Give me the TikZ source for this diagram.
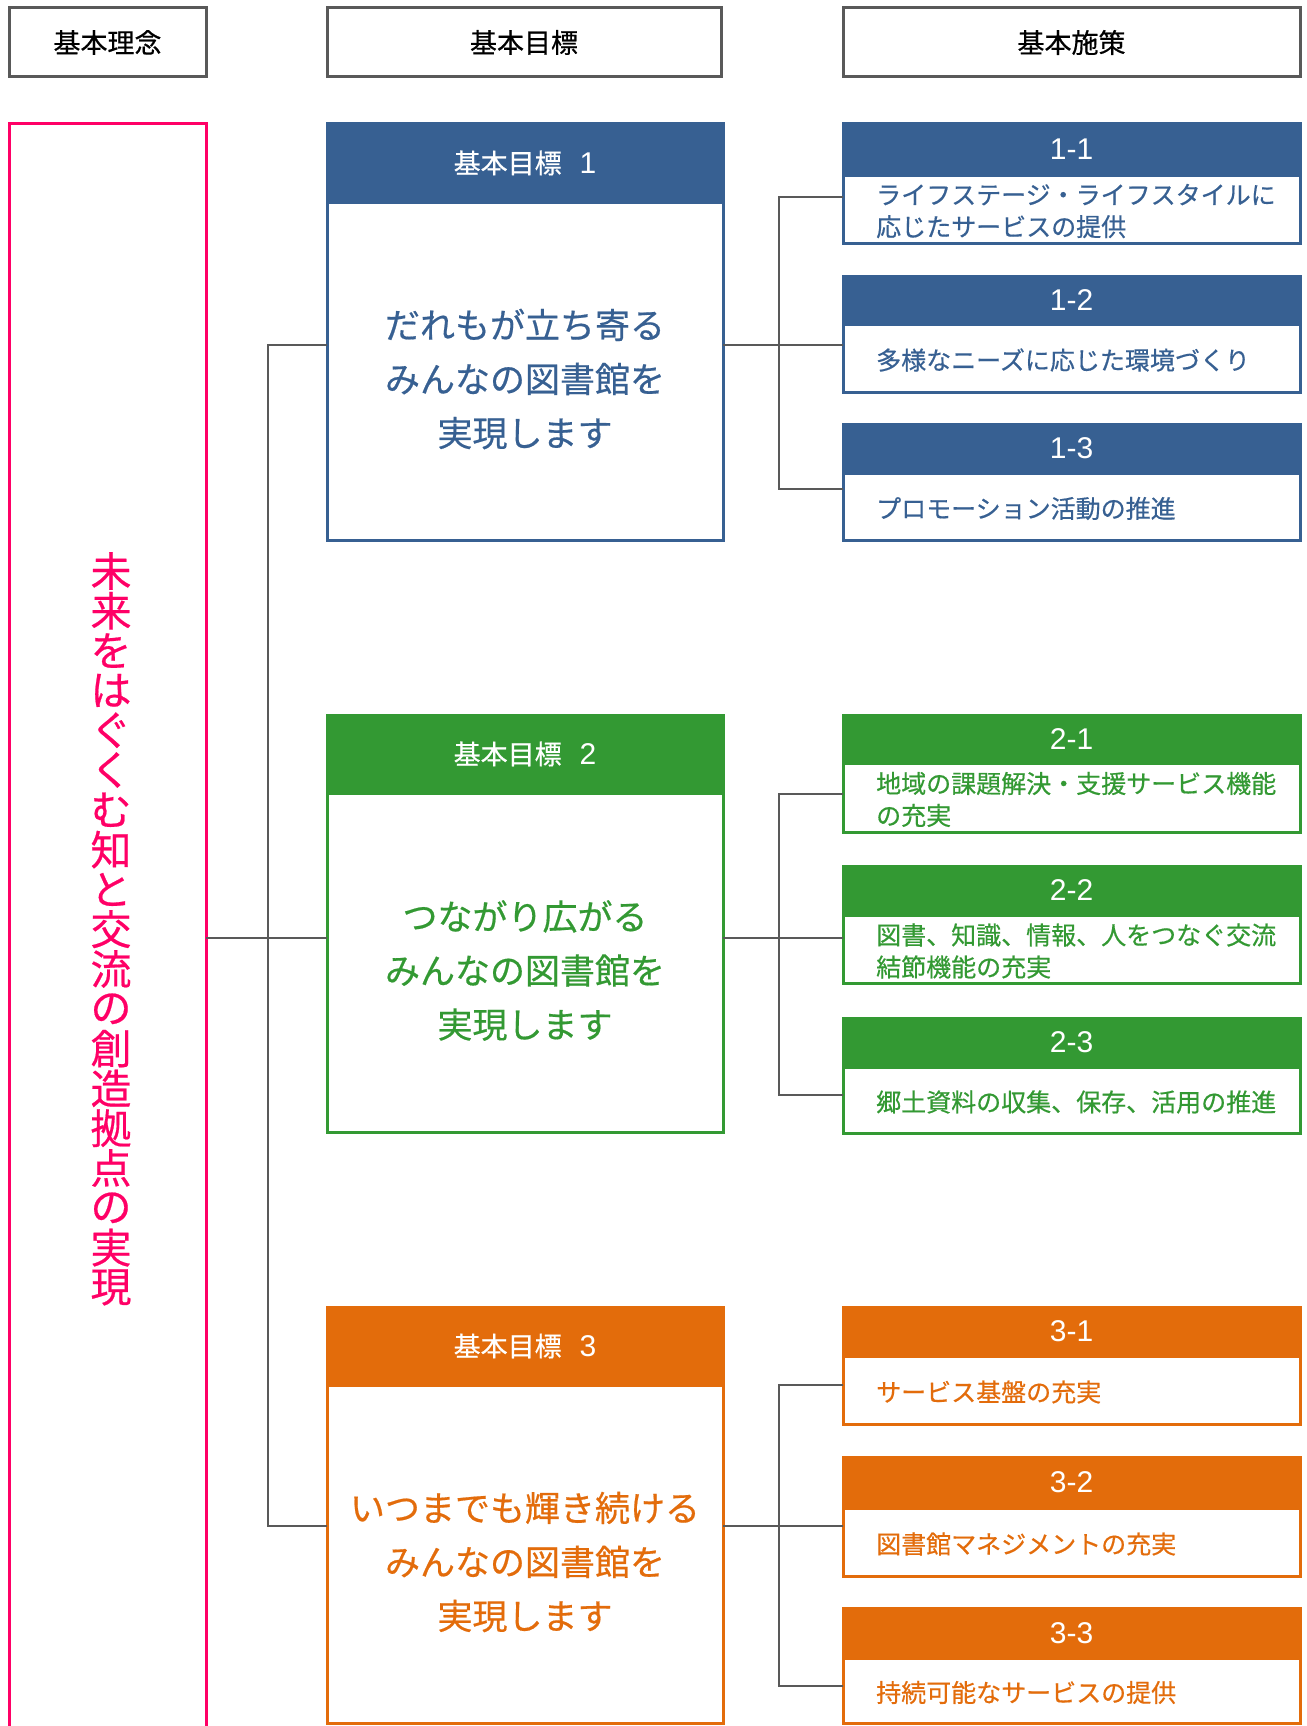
\documentclass[tikz,border=0pt]{standalone}
\usepackage{fontspec}
\setmainfont{Noto Sans CJK JP}[FakeBold=0.5]
\newfontfamily\lat{Liberation Sans}
\usetikzlibrary{calc}
\definecolor{cblue}{RGB}{55,96,146}
\definecolor{cgreen}{RGB}{51,153,51}
\definecolor{corange}{RGB}{227,108,11}
\definecolor{cpink}{RGB}{255,0,102}
\definecolor{cgrey}{RGB}{89,89,89}
\tikzset{
  hbox/.style={draw=cgrey, line width=3pt, fill=white, inner sep=0pt, outer sep=0pt, anchor=north west,
    font=\fontsize{27}{32}\selectfont, text=black},
  gbody/.style={line width=3pt, fill=white, inner sep=0pt, outer sep=0pt, anchor=north west, minimum width=396},
  ghead/.style={line width=3pt, inner sep=0pt, outer sep=0pt, anchor=north west, minimum width=396,
    text=white, font=\fontsize{27}{32}\selectfont},
  gtext/.style={align=center, inner sep=0pt, font=\fontsize{35}{54}\selectfont},
  pbody/.style={line width=3pt, fill=white, inner sep=0pt, outer sep=0pt, anchor=north west, minimum width=457},
  phead/.style={line width=3pt, inner sep=0pt, outer sep=0pt, anchor=north west, minimum width=457,
    text=white, font=\fontsize{30}{34}\selectfont},
  ptext/.style={anchor=west, align=left, inner sep=0pt, font=\fontsize{25}{32}\selectfont},
  vtext/.style={inner sep=0pt, text=cpink, font=\fontsize{41}{41}\selectfont},
  conn/.style={draw=cgrey, line width=2pt}
}
\newcommand\goalbox[6]{%
  \node[gbody, draw=#4, minimum height={#3-#2}] (#1) at (327,#2) {};
  \node[ghead, fill=#4, draw=#4, minimum height=78] (#1h) at (327,#2) {基本目標\hspace{18pt}{\lat\fontsize{30}{32}\selectfont #5}};
  \node[gtext, text=#4] (#1t) at ($(#1h.south)!.5!(#1.south)+(0,8)$) {#6};
}
\newcommand\policybox[7]{%
  \node[pbody, draw=#5, minimum height={#4-#2}] (#1) at (843,#2) {};
  \node[phead, fill=#5, draw=#5, minimum height={#3-#2}] (#1h) at (843,#2) {\lat #6};
  \node[ptext, text=#5] (#1t) at ($(#1h.south west)!.5!(#1.south west)+(33,2)$) {#7};
}
\begin{document}
\begin{tikzpicture}[x=1pt,y=-1pt]
\useasboundingbox (0,0) rectangle (1306,1726);
% column headers
\node[hbox, minimum width=197, minimum height=69] (h1) at (9,8) {基本理念};
\node[hbox, minimum width=394, minimum height=69] (h2) at (327,8) {基本目標};
\node[hbox, minimum width=457, minimum height=69] (h3) at (843,8) {基本施策};
% vision box
\node[draw=cpink, line width=3pt, inner sep=0pt, outer sep=0pt, anchor=north west,
  minimum width=197, minimum height=1700] (vis) at (9,124) {};
\foreach \c [count=\i] in {未,来,を,は,ぐ,く,む,知,と,交,流,の,創,造,拠,点,の,実,現}
  \node[vtext] (v\i) at (111,{571+39.8*(\i-1)}) {\c};
% goals
\goalbox{g1}{124}{540}{cblue}{1}{だれもが立ち寄る\\みんなの図書館を\\実現します}
\goalbox{g2}{715}{1132}{cgreen}{2}{つながり広がる\\みんなの図書館を\\実現します}
\goalbox{g3}{1307}{1723}{corange}{3}{いつまでも輝き続ける\\みんなの図書館を\\実現します}
% policies
\policybox{p11}{124}{175}{243}{cblue}{1-1}{ライフステージ・ライフスタイルに\\応じたサービスの提供}
\policybox{p12}{276}{324}{392}{cblue}{1-2}{多様なニーズに応じた環境づくり}
\policybox{p13}{424}{473}{540}{cblue}{1-3}{プロモーション活動の推進}
\policybox{p21}{715}{763}{832}{cgreen}{2-1}{地域の課題解決・支援サービス機能\\の充実}
\policybox{p22}{866}{915}{983}{cgreen}{2-2}{図書、知識、情報、人をつなぐ交流\\結節機能の充実}
\policybox{p23}{1018}{1067}{1133}{cgreen}{2-3}{郷土資料の収集、保存、活用の推進}
\policybox{p31}{1307}{1356}{1424}{corange}{3-1}{サービス基盤の充実}
\policybox{p32}{1457}{1508}{1576}{corange}{3-2}{図書館マネジメントの充実}
\policybox{p33}{1608}{1658}{1723}{corange}{3-3}{持続可能なサービスの提供}
% junctions
\coordinate (t1) at (268,345);
\coordinate (t2) at (268,938);
\coordinate (t3) at (268,1526);
\coordinate (a11) at (779,197);
\coordinate (a12) at (779,345);
\coordinate (a13) at (779,489);
\coordinate (a21) at (779,794);
\coordinate (a22) at (779,938);
\coordinate (a23) at (779,1095);
\coordinate (a31) at (779,1385);
\coordinate (a32) at (779,1526);
\coordinate (a33) at (779,1686);
% connectors
\draw[conn] (g1.west |- t1) -- (t1) -- (t3) -- (g3.west |- t3);
\draw[conn] (vis.east |- t2) -- (g2.west |- t2);
\draw[conn] (p11.west |- a11) -- (a11) -- (a13) -- (p13.west |- a13);
\draw[conn] (g1.east |- a12) -- (p12.west |- a12);
\draw[conn] (p21.west |- a21) -- (a21) -- (a23) -- (p23.west |- a23);
\draw[conn] (g2.east |- a22) -- (p22.west |- a22);
\draw[conn] (p31.west |- a31) -- (a31) -- (a33) -- (p33.west |- a33);
\draw[conn] (g3.east |- a32) -- (p32.west |- a32);
\end{tikzpicture}
\end{document}
